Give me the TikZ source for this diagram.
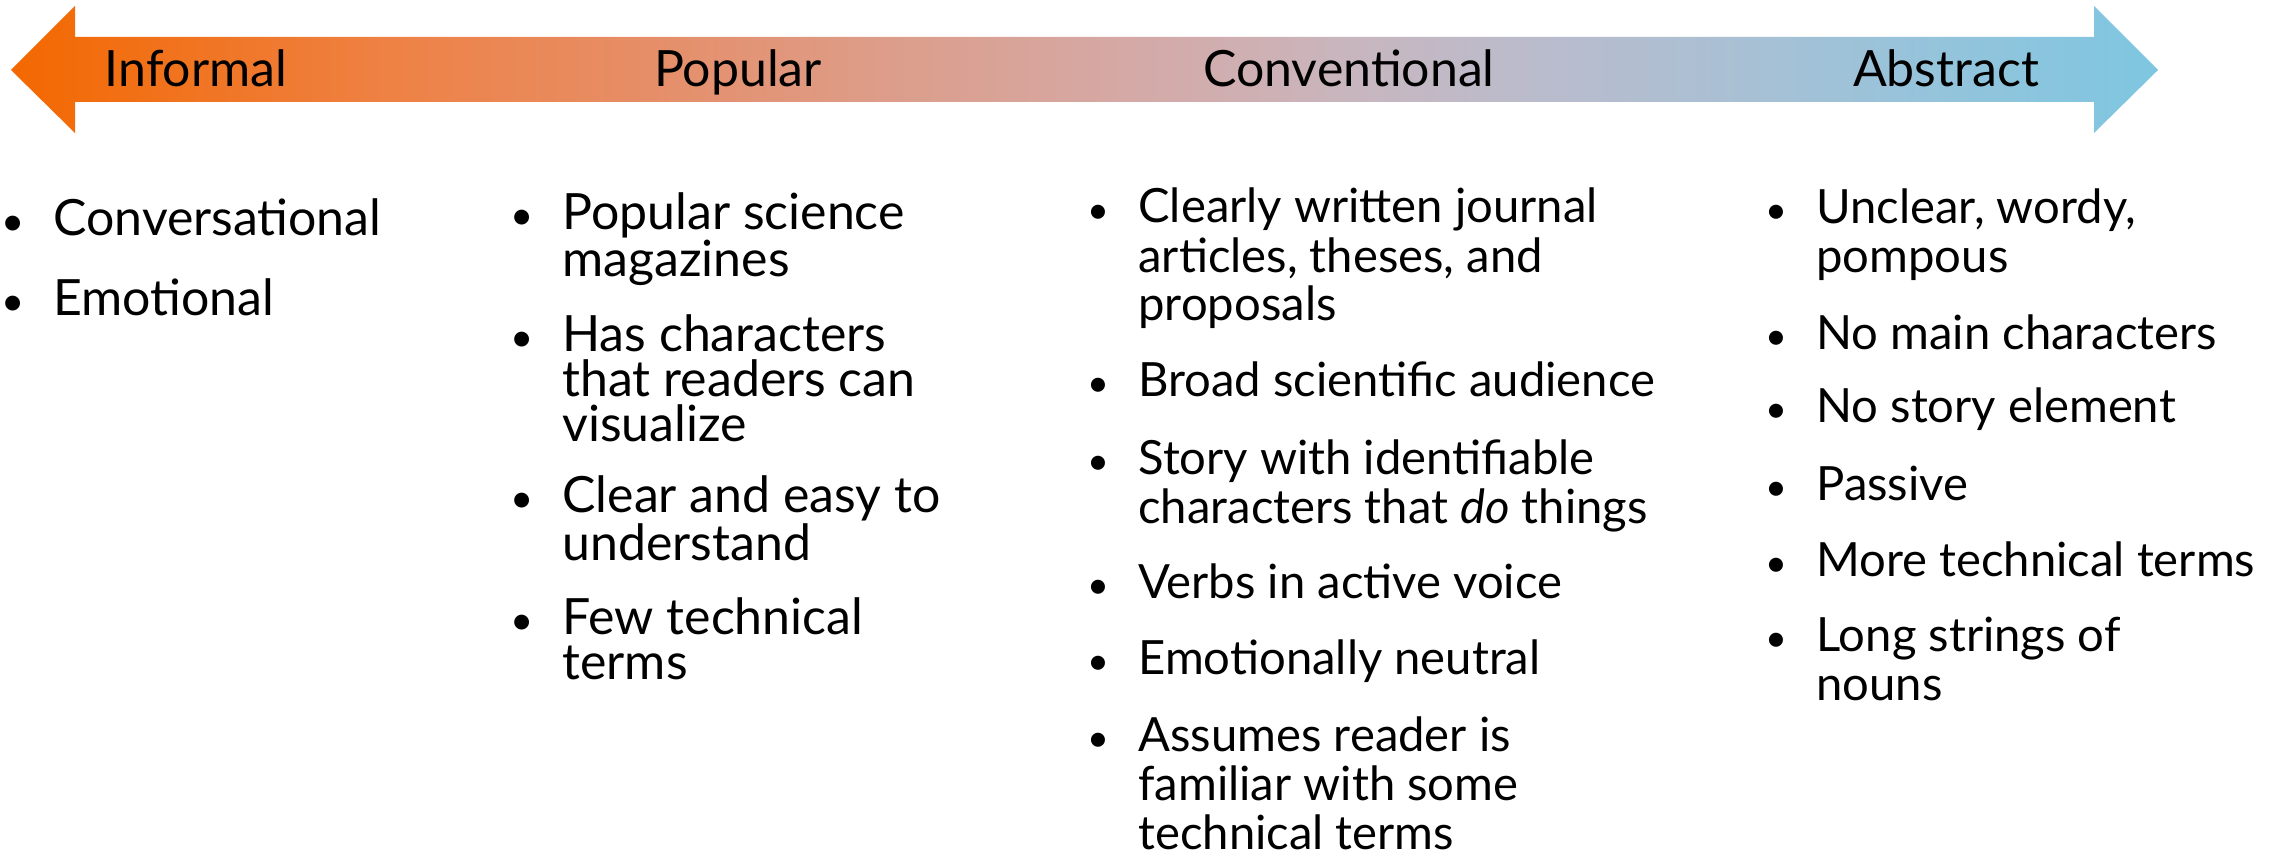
\documentclass[tikz,border=0pt]{standalone}
\usepackage{fontspec}
\setmainfont{Lato}
\usepackage{tikz}
\usetikzlibrary{positioning}

\definecolor{sc0}{RGB}{243,104,0}
\definecolor{sc1}{RGB}{238,130,70}
\definecolor{sc2}{RGB}{230,142,104}
\definecolor{sc3}{RGB}{220,158,140}
\definecolor{sc4}{RGB}{212,170,168}
\definecolor{sc5}{RGB}{200,182,190}
\definecolor{sc6}{RGB}{185,188,205}
\definecolor{sc7}{RGB}{168,192,212}
\definecolor{sc8}{RGB}{147,196,220}
\definecolor{sc9}{RGB}{126,198,224}
\pgfdeclarehorizontalshading{register}{100bp}{color(0bp)=(sc0); color(25bp)=(sc0);
  color(34bp)=(sc1); color(39.9bp)=(sc2); color(45.7bp)=(sc3); color(51.5bp)=(sc4);
  color(56.2bp)=(sc5); color(60.8bp)=(sc6); color(65.5bp)=(sc7); color(70.2bp)=(sc8);
  color(75bp)=(sc9); color(100bp)=(sc9)}

% bullet hung 20pt left of the text
\newcommand{\bul}{\llap{\makebox[0pt][c]{\scalebox{0.8}{\textbullet}}\hspace{20pt}}}

\begin{document}
\begin{tikzpicture}[x=0.5pt, y=-0.5pt,
  every node/.style={inner sep=0pt, text=black},
  label/.style={anchor=base, font=\fontsize{25}{25}\selectfont},
  point/.style={anchor=base west, align=left, font=\fontsize{23.6}{24.5}\selectfont},
  wide/.style={font=\fontsize{25}{22.5}\selectfont}]
\useasboundingbox (0,0) rectangle (2274,850);

% the scale arrow
\shade[shading=register] (11,70) -- (75,6) -- (75,37) -- (2094,37) -- (2094,6) -- (2158,70)
  -- (2094,133) -- (2094,102) -- (75,102) -- (75,133) -- cycle;

\node[label] (inf) at (196,87) {Informal};
\node[label] (pop) at (738,87) {Popular};
\node[label] (conv) at (1349,87) {Conventional};
\node[label] (abs) at (1946,87) {Abstract};

% informal (multi-line nodes sit on their last line)
\node[point, wide] (i1) at (53,235) {\bul Conversational};
\node[point, wide] (i2) at (53,315) {\bul Emotional};

% popular
\node[point, wide] (p1) at (562,277) {\bul Popular science\\magazines};
\node[point, wide] (p2) at (562,441) {\bul Has characters\\that readers can\\visualize};
\node[point, wide] (p3) at (562,560) {\bul Clear and easy to\\understand};
\node[point, wide] (p4) at (562,679) {\bul Few technical\\terms};

% conventional
\node[point] (c1) at (1138,321) {\bul Clearly written journal\\articles, theses, and\\proposals};
\node[point] (c2) at (1138,396) {\bul Broad scientific audience};
\node[point] (c3) at (1138,523) {\bul Story with identifiable\\characters that \emph{do} things};
\node[point] (c4) at (1138,598) {\bul Verbs in active voice};
\node[point] (c5) at (1138,674) {\bul Emotionally neutral};
\node[point] (c6) at (1138,849) {\bul Assumes reader is\\familiar with some\\technical terms};

% abstract
\node[point] (a1) at (1816,272) {\bul Unclear, wordy,\\pompous};
\node[point] (a2) at (1816,349) {\bul No main characters};
\node[point] (a3) at (1816,422) {\bul No story element};
\node[point] (a4) at (1816,500) {\bul Passive};
\node[point] (a5) at (1816,576) {\bul More technical terms};
\node[point] (a6) at (1816,700) {\bul Long strings of\\nouns};
\end{tikzpicture}
\end{document}
